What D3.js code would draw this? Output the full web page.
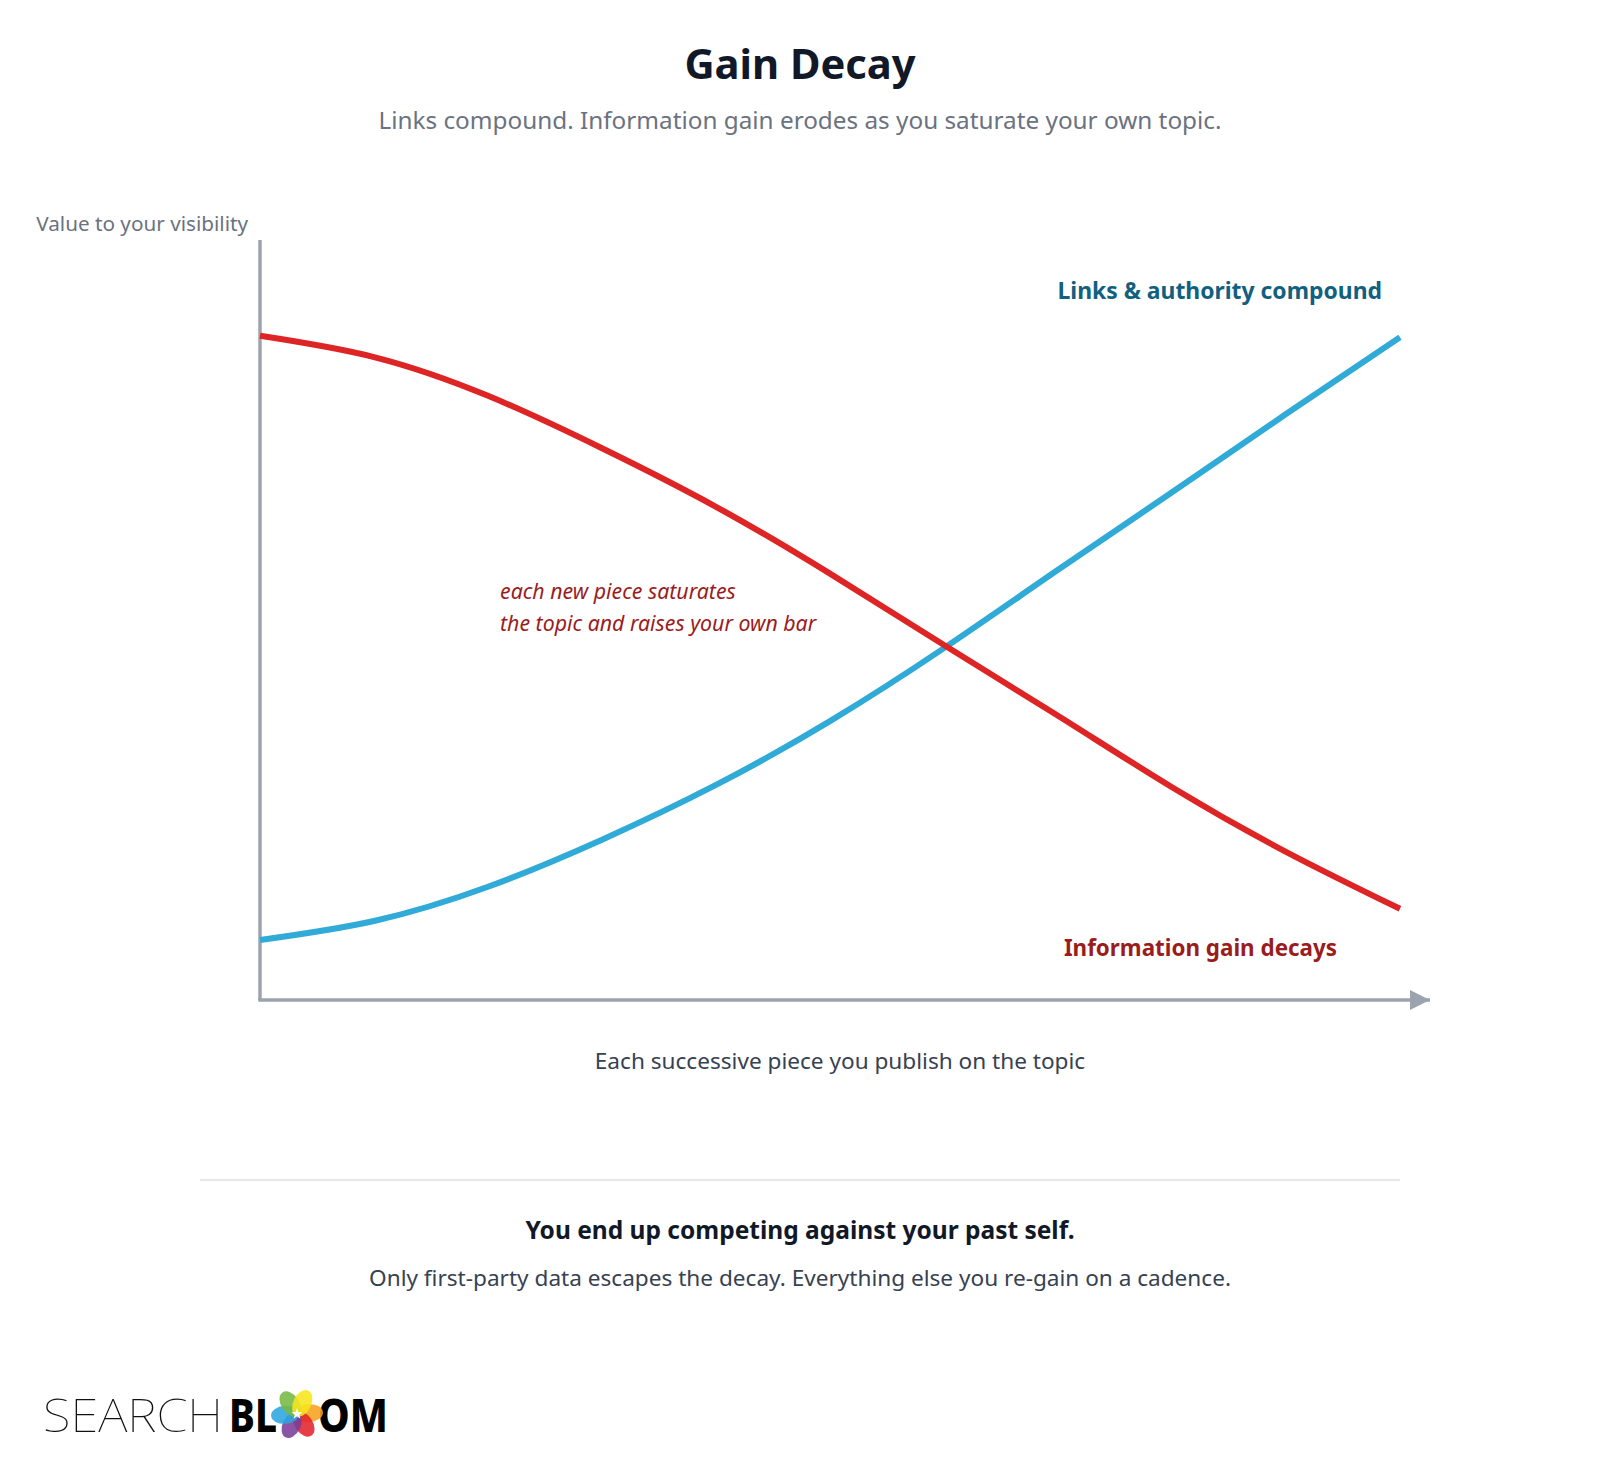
<!DOCTYPE html>
<html>
<head>
<meta charset="utf-8">
<script src="https://cdn.jsdelivr.net/npm/d3@7"></script>
<style>
  body { margin: 0; background: #fff; }
  text { font-family: "Segoe UI", "Noto Sans", sans-serif; }
</style>
</head>
<body>
<div id="chart"></div>
<script>
var width = 1600,
    height = 1458;

// pieces published on the topic (x) and value to visibility (y, 0-100)
var pieces = [0, 1, 2, 3, 4, 5, 6, 7, 8, 9, 10];
var linksValues = [7.9, 10.4, 14.9, 21.1, 28.3, 36.7, 46.3, 56.6, 66.8, 77.1, 87.2];
var gainValues = [87.4, 84.6, 79.5, 72.6, 64.9, 56.1, 46.7, 37.4, 28.0, 19.5, 12.0];

var titleText = "Gain Decay",
    subtitleText = "Links compound. Information gain erodes as you saturate your own topic.",
    yLabel = "Value to your visibility",
    xLabel = "Each successive piece you publish on the topic",
    linksLabel = "Links & authority compound",
    gainLabel = "Information gain decays",
    noteLines = ["each new piece saturates", "the topic and raises your own bar"],
    footHead = "You end up competing against your past self.",
    footText = "Only first-party data escapes the decay. Everything else you re-gain on a cadence.";

var petalColors = ["#f5a21f", "#e3232c", "#7a3d97", "#2ba6de", "#76b843", "#f7e51b"];

var axisColor = "#9ca3af",
    blue = "#30aad7",
    red = "#dd2526";

var svg = d3.select("#chart")
    .append("svg")
    .attr("width", width)
    .attr("height", height);

svg.append("rect").attr("width", width).attr("height", height).attr("fill", "#fff");

var x = d3.scaleLinear().domain([0, 10]).range([260, 1400]);
var y = d3.scaleLinear().domain([0, 100]).range([1000, 240]);

// titles
svg.append("text")
    .attr("x", 800).attr("y", 79)
    .attr("text-anchor", "middle")
    .attr("font-size", 41.7).attr("font-weight", 700)
    .attr("fill", "#111827")
    .text(titleText);

svg.append("text")
    .attr("x", 800).attr("y", 129)
    .attr("text-anchor", "middle")
    .attr("font-size", 24.3)
    .attr("fill", "#6b7280")
    .text(subtitleText);

// axes
svg.append("defs").append("marker")
    .attr("id", "arrow")
    .attr("viewBox", "0 0 10 10")
    .attr("refX", 10).attr("refY", 5)
    .attr("markerWidth", 20).attr("markerHeight", 20)
    .attr("markerUnits", "userSpaceOnUse")
    .attr("orient", "auto")
    .append("path")
    .attr("d", "M0,0L10,5L0,10Z")
    .attr("fill", axisColor);

svg.append("line")
    .attr("x1", x(0)).attr("x2", x(0))
    .attr("y1", y(0)).attr("y2", y.range()[1])
    .attr("stroke", axisColor).attr("stroke-width", 3.5);

svg.append("line")
    .attr("x1", x(0) - 1.75).attr("x2", x.range()[1] + 30)
    .attr("y1", y(0)).attr("y2", y(0))
    .attr("stroke", axisColor).attr("stroke-width", 3.5)
    .attr("marker-end", "url(#arrow)");

svg.append("text")
    .attr("x", 248).attr("y", 231)
    .attr("text-anchor", "end")
    .attr("font-size", 20.7)
    .attr("fill", "#6b7280")
    .text(yLabel);

svg.append("text")
    .attr("x", 840).attr("y", 1069)
    .attr("text-anchor", "middle")
    .attr("font-size", 22.6)
    .attr("fill", "#374151")
    .text(xLabel);

// curves
var line = d3.line()
    .x(function(d, i){ return x(pieces[i]); })
    .y(function(d){ return y(d); })
    .curve(d3.curveNatural);

svg.append("path")
    .datum(linksValues)
    .attr("d", line)
    .attr("fill", "none")
    .attr("stroke", blue)
    .attr("stroke-width", 6);

svg.append("path")
    .datum(gainValues)
    .attr("d", line)
    .attr("fill", "none")
    .attr("stroke", red)
    .attr("stroke-width", 6);

// labels
svg.append("text")
    .attr("x", 1382).attr("y", 299)
    .attr("text-anchor", "end")
    .attr("font-size", 22.9).attr("font-weight", 700)
    .attr("fill", "#11607f")
    .text(linksLabel);

svg.append("text")
    .attr("x", 1337).attr("y", 956)
    .attr("text-anchor", "end")
    .attr("font-size", 22.4).attr("font-weight", 700)
    .attr("fill", "#9b1c1c")
    .text(gainLabel);

svg.append("g")
    .selectAll("text")
    .data(noteLines)
    .enter()
    .append("text")
    .attr("x", 500)
    .attr("y", function(d, i){ return 599 + i * 32; })
    .attr("font-size", 21.3)
    .attr("font-style", "italic")
    .attr("fill", "#9b1c1c")
    .text(function(d){ return d; });

// footer
svg.append("line")
    .attr("x1", 200).attr("x2", 1400)
    .attr("y1", 1180).attr("y2", 1180)
    .attr("stroke", "#e5e7eb").attr("stroke-width", 2);

svg.append("text")
    .attr("x", 800).attr("y", 1239)
    .attr("text-anchor", "middle")
    .attr("font-size", 24.5).attr("font-weight", 700)
    .attr("fill", "#111827")
    .text(footHead);

svg.append("text")
    .attr("x", 800).attr("y", 1286)
    .attr("text-anchor", "middle")
    .attr("font-size", 22.6)
    .attr("fill", "#374151")
    .text(footText);

// logo
var logo = svg.append("g").attr("class", "logo");

logo.append("text")
    .attr("x", 43).attr("y", 1432)
    .attr("font-family", "Inter, Lato, sans-serif")
    .attr("font-size", 47).attr("font-weight", 100)
    .attr("textLength", 180).attr("lengthAdjust", "spacingAndGlyphs")
    .attr("fill", "#111")
    .text("SEARCH");

logo.append("text")
    .attr("x", 229).attr("y", 1432)
    .attr("font-family", "Inter, Lato, sans-serif")
    .attr("font-size", 47).attr("font-weight", 800)
    .attr("textLength", 48).attr("lengthAdjust", "spacingAndGlyphs")
    .attr("fill", "#000")
    .text("BL");

logo.append("text")
    .attr("x", 318).attr("y", 1432)
    .attr("font-family", "Inter, Lato, sans-serif")
    .attr("font-size", 47).attr("font-weight", 800)
    .attr("textLength", 70).attr("lengthAdjust", "spacingAndGlyphs")
    .attr("fill", "#000")
    .text("OM");

var flower = logo.append("g").attr("transform", "translate(297,1414)");

flower.selectAll("ellipse")
    .data(petalColors)
    .enter()
    .append("ellipse")
    .attr("cx", 12).attr("cy", 0)
    .attr("rx", 14).attr("ry", 9)
    .attr("transform", function(d, i){ return "rotate(" + (-4 + i * 60) + ")"; })
    .attr("fill", function(d){ return d; })
    .attr("fill-opacity", 0.88);

var star = d3.symbol().type(d3.symbolStar).size(40);
flower.append("path").attr("d", star()).attr("fill", "#fff");
</script>
</body>
</html>
